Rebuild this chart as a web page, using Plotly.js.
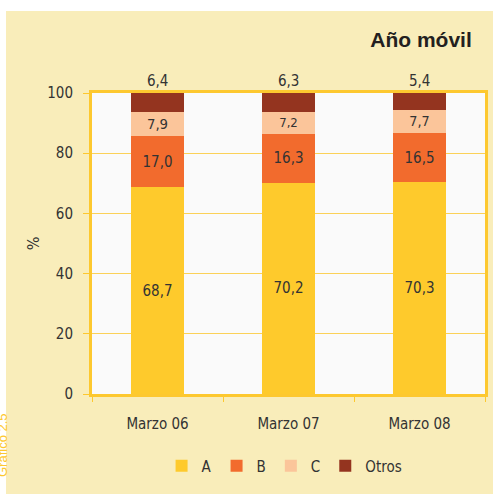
<!DOCTYPE html>
<html>
<head>
<meta charset="utf-8">
<script src="https://cdn.plot.ly/plotly-3.0.1.min.js"></script>
<style>
html,body{margin:0;padding:0;background:#ffffff;}
#bg{position:absolute;left:6px;top:11px;width:487px;height:483px;background:#F9EDBA;}
#chart{position:absolute;left:0;top:0;width:493px;height:494px;}
</style>
</head>
<body>
<div id="bg"></div>
<div id="chart"></div>
<script>
const categories = ['Marzo 06', 'Marzo 07', 'Marzo 08'];
const seriesA = [68.7, 70.2, 70.3];
const seriesB = [17.0, 16.3, 16.5];
const seriesC = [7.9, 7.2, 7.7];
const seriesOtros = [6.4, 6.3, 5.4];
const yTicks = [0, 20, 40, 60, 80, 100];

const FONT = 'DejaVu Sans Condensed';
const TXT = '#333333';

function mk(name, vals, color, showText) {
  return {
    type: 'bar', name: name, x: categories, y: vals,
    marker: {color: color, line: {width: 0}},
    texttemplate: showText ? '%{y:.1f}' : '', textposition: 'inside',
    insidetextanchor: 'middle',
    textfont: {family: FONT, size: 15, color: TXT},
    cliponaxis: false, hoverinfo: 'skip'
  };
}

const data = [
  mk('A', seriesA, '#FECA2C', true),
  mk('B', seriesB, '#F26B2D', true),
  mk('C', seriesC, '#FBC59A', true),
  mk('Otros', seriesOtros, '#94341F', false)
];

// labels for the top segment, placed above each stack
const otrosLabels = categories.map((c, i) => ({
  x: i, xref: 'x', yref: 'y',
  y: Math.min(100, Math.round((seriesA[i] + seriesB[i] + seriesC[i] + seriesOtros[i]) * 10) / 10),
  yanchor: 'bottom', yshift: 1,
  text: seriesOtros[i].toFixed(1).replace('.', ','),
  showarrow: false, font: {family: FONT, size: 15, color: TXT}
}));

const layout = {
  width: 493, height: 494,
  margin: {l: 92, r: 8, t: 93, b: 100},
  paper_bgcolor: 'rgba(0,0,0,0)',
  plot_bgcolor: '#FAFAFA',
  barmode: 'stack',
  bargap: 0.595,
  separators: ',.',
  showlegend: true,
  font: {family: FONT, color: TXT},
  title: {
    text: '<b>Año móvil</b>',
    font: {family: 'Liberation Sans, Arial, sans-serif', size: 21, color: '#231F20'},
    xref: 'container', yref: 'container',
    x: 0.957, xanchor: 'right', y: 0.919, yanchor: 'middle'
  },
  xaxis: {
    type: 'category',
    showline: true, linecolor: '#FDC82F', linewidth: 3, mirror: true,
    ticks: 'outside', tickson: 'boundaries', ticklen: 5, tickcolor: '#FDC82F', tickwidth: 1,
    tickfont: {family: FONT, size: 15, color: TXT},
    ticklabelstandoff: 14,
    showgrid: false, zeroline: false
  },
  yaxis: {
    range: [0, 100],
    tickvals: yTicks,
    ticktext: yTicks.map(String),
    showline: true, linecolor: '#FDC82F', linewidth: 3, mirror: true,
    ticks: 'outside', ticklen: 6, tickcolor: '#FDC82F', tickwidth: 1,
    tickfont: {family: FONT, size: 15, color: TXT},
    ticklabelstandoff: 7,
    showgrid: true, gridcolor: '#FBD158', gridwidth: 1,
    zeroline: false,
    title: {text: '%', font: {family: FONT, size: 16, color: TXT}, standoff: 4}
  },
  legend: {
    orientation: 'h', x: 0.49, xanchor: 'center', y: -0.239, yanchor: 'middle',
    font: {family: FONT, size: 15, color: TXT},
    itemwidth: 30, traceorder: 'normal', bgcolor: 'rgba(0,0,0,0)'
  },
  annotations: otrosLabels.concat([{
    text: 'Gráfico 2.5', xref: 'paper', yref: 'paper',
    x: (2 - 92) / 393, y: (394 - 445) / 301, xanchor: 'center', yanchor: 'middle',
    textangle: -90, showarrow: false,
    font: {family: 'Liberation Sans, Arial, sans-serif', size: 13, color: '#FDC82F'}
  }])
};

Plotly.newPlot('chart', data, layout, {displayModeBar: false, staticPlot: true});
</script>
</body>
</html>
